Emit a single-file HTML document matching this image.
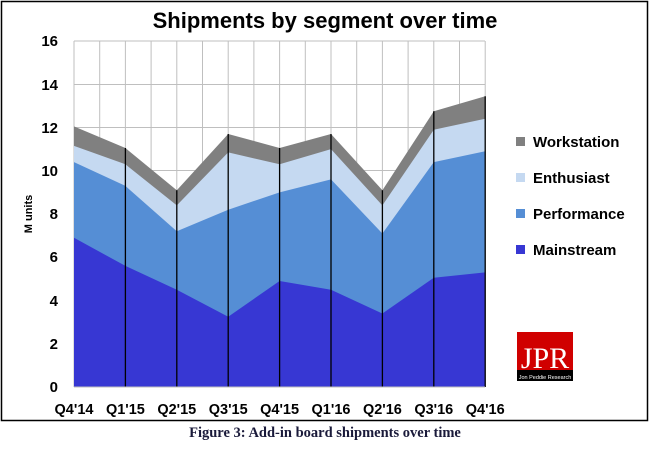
<!DOCTYPE html>
<html><head><style>
html,body{margin:0;padding:0;background:#fff;}
body{width:650px;height:444px;overflow:hidden;}
text{font-family:"Liberation Sans",sans-serif;font-weight:bold;}
</style></head><body>
<svg width="650" height="444" xmlns="http://www.w3.org/2000/svg">
<rect x="1.5" y="1.5" width="646" height="419" fill="#fff" stroke="#000" stroke-width="1.5"/>
<text x="325" y="28" font-size="22" text-anchor="middle">Shipments by segment over time</text>
<g stroke="#bfbfbf" stroke-width="1">
<line x1="74" y1="41" x2="485" y2="41"/><line x1="74" y1="84.5" x2="485" y2="84.5"/><line x1="74" y1="127.5" x2="485" y2="127.5"/><line x1="74" y1="170.5" x2="485" y2="170.5"/><line x1="74" y1="214" x2="485" y2="214"/><line x1="74" y1="257" x2="485" y2="257"/><line x1="74" y1="300.5" x2="485" y2="300.5"/><line x1="74" y1="343.5" x2="485" y2="343.5"/>
<line x1="74" y1="41" x2="74" y2="387"/><line x1="99.7" y1="41" x2="99.7" y2="387"/><line x1="125.4" y1="41" x2="125.4" y2="387"/><line x1="151.1" y1="41" x2="151.1" y2="387"/><line x1="176.8" y1="41" x2="176.8" y2="387"/><line x1="202.5" y1="41" x2="202.5" y2="387"/><line x1="228.2" y1="41" x2="228.2" y2="387"/><line x1="253.9" y1="41" x2="253.9" y2="387"/><line x1="279.6" y1="41" x2="279.6" y2="387"/><line x1="305.3" y1="41" x2="305.3" y2="387"/><line x1="331" y1="41" x2="331" y2="387"/><line x1="356.7" y1="41" x2="356.7" y2="387"/><line x1="382.4" y1="41" x2="382.4" y2="387"/><line x1="408.1" y1="41" x2="408.1" y2="387"/><line x1="433.8" y1="41" x2="433.8" y2="387"/><line x1="459.5" y1="41" x2="459.5" y2="387"/><line x1="485.2" y1="41" x2="485.2" y2="387"/>
</g>
<polygon fill="#808080" points="74,387 74,126.4 125.4,148 176.8,190.2 228.2,134 279.6,148 331,134 382.4,190.2 433.8,111.3 485.2,96.2 485.2,387"/>
<polygon fill="#c5d9f1" points="74,387 74,145.9 125.4,164.3 176.8,205.4 228.2,152.4 279.6,164.3 331,149.1 382.4,205.4 433.8,129.7 485.2,118.8 485.2,387"/>
<polygon fill="#558ed5" points="74,387 74,162.1 125.4,185.9 176.8,231.3 228.2,209.7 279.6,192.4 331,179.4 382.4,233.5 433.8,162.1 485.2,151.3 485.2,387"/>
<polygon fill="#3737d3" points="74,387 74,237.8 125.4,265.9 176.8,289.7 228.2,316.7 279.6,281 331,289.7 382.4,313.5 433.8,277.8 485.2,272.4 485.2,387"/>
<g stroke="#000" stroke-width="1.3">
<line x1="125.4" y1="148" x2="125.4" y2="387"/><line x1="176.8" y1="190.2" x2="176.8" y2="387"/><line x1="228.2" y1="134" x2="228.2" y2="387"/><line x1="279.6" y1="148" x2="279.6" y2="387"/><line x1="331" y1="134" x2="331" y2="387"/><line x1="382.4" y1="190.2" x2="382.4" y2="387"/><line x1="433.8" y1="111.3" x2="433.8" y2="387"/><line x1="485.2" y1="96.2" x2="485.2" y2="387"/>
</g>
<line x1="74" y1="387" x2="485" y2="387" stroke="#bfbfbf"/>
<g font-size="15" text-anchor="end">
<text x="58" y="392">0</text><text x="58" y="349">2</text><text x="58" y="306">4</text><text x="58" y="262">6</text><text x="58" y="219">8</text><text x="58" y="176">10</text><text x="58" y="133">12</text><text x="58" y="90">14</text><text x="58" y="46">16</text>
</g>
<text transform="translate(32,214) rotate(-90)" font-size="11" text-anchor="middle">M units</text>
<g font-size="14.5" text-anchor="middle">
<text x="74" y="414">Q4'14</text><text x="125.4" y="414">Q1'15</text><text x="176.8" y="414">Q2'15</text><text x="228.2" y="414">Q3'15</text><text x="279.6" y="414">Q4'15</text><text x="331" y="414">Q1'16</text><text x="382.4" y="414">Q2'16</text><text x="433.8" y="414">Q3'16</text><text x="485.2" y="414">Q4'16</text>
</g>
<g font-size="15">
<rect x="516" y="137" width="9" height="9" fill="#808080"/><text x="533" y="147">Workstation</text>
<rect x="516" y="173" width="9" height="9" fill="#c5d9f1"/><text x="533" y="183">Enthusiast</text>
<rect x="516" y="209" width="9" height="9" fill="#558ed5"/><text x="533" y="219">Performance</text>
<rect x="516" y="245" width="9" height="9" fill="#3737d3"/><text x="533" y="255">Mainstream</text>
</g>
<rect x="517" y="332" width="56" height="49" fill="#d00000"/>
<rect x="517" y="370" width="56" height="11" fill="#000"/>
<text x="545" y="368" font-size="30" fill="#fff" text-anchor="middle" style="font-family:'Liberation Serif',serif;font-weight:normal">JPR</text>
<text x="545" y="379" font-size="5.5" fill="#fff" text-anchor="middle" style="font-weight:normal">Jon Peddie Research</text>
<text x="325" y="437" font-size="14.5" text-anchor="middle" fill="#1a1a3a" style="font-family:'Liberation Serif',serif">Figure 3: Add-in board shipments over time</text>
</svg>
</body></html>
